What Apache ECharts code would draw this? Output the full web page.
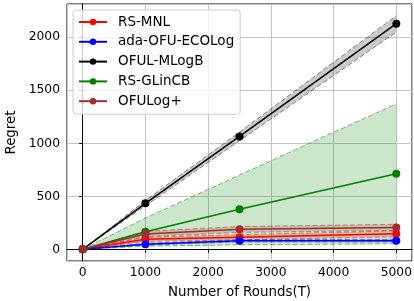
<!DOCTYPE html>
<html>
<head>
<meta charset="utf-8">
<script src="https://cdn.jsdelivr.net/npm/echarts@6/dist/echarts.min.js"></script>
<style>
  html, body { margin: 0; padding: 0; background: #fff; }
  #chart { width: 414px; height: 301px; }
</style>
</head>
<body>
<div id="chart"></div>
<script>
// rounds on the x axis
var rounds = [0, 1000, 2500, 5000];

// mean regret per algorithm
var rsMnl = [0, 95, 113, 148];
var adaOfu = [0, 48, 80, 82];
var ofulMlogb = [0, 434, 1065, 2128];
var rsGlincb = [0, 165, 378, 712];
var ofulogPlus = [0, 145, 190, 207];

// band edges (lower / upper)
var rsMnlLo = [0, 75, 90, 118];
var rsMnlHi = [0, 115, 138, 175];
var adaOfuLo = [0, 40, 70, 70];
var adaOfuHi = [0, 56, 90, 94];
var ofulMlogbLo = [0, 410, 1025, 2050];
var ofulMlogbHi = [0, 460, 1105, 2204];
var rsGlincbLo = [0, 30, 42, 52];
var rsGlincbHi = [0, 295, 700, 1372];
var ofulogPlusLo = [0, 120, 160, 178];
var ofulogPlusHi = [0, 170, 215, 236];

var FONT = 'DejaVu Sans';

function pairs(vals) {
  return rounds.map(function(r, i) { return [r, vals[i]]; });
}

// shaded band: one polygon drawn through the axis scales, plus dashed edges
function band(lo, hi, edge, fill) {
  var dash = { color: edge, width: 1, type: [5, 2.5] };
  var area = {
    type: 'custom', silent: true, z: 1,
    data: rounds.map(function(r, i) { return [r, lo[i], hi[i]]; }),
    encode: { x: 0, y: [1, 2] },
    renderItem: function(params, api) {
      if (params.dataIndex !== 0) return;
      var pts = [];
      for (var i = 0; i < rounds.length; i++) pts.push(api.coord([rounds[i], hi[i]]));
      for (var j = rounds.length - 1; j >= 0; j--) pts.push(api.coord([rounds[j], lo[j]]));
      return { type: 'polygon', shape: { points: pts }, style: { fill: fill } };
    }
  };
  return [
    area,
    { type: 'line', data: pairs(lo), symbol: 'none', lineStyle: dash, silent: true, z: 2 },
    { type: 'line', data: pairs(hi), symbol: 'none', lineStyle: dash, silent: true, z: 2 }
  ];
}

function mean(name, vals, color) {
  return {
    name: name, type: 'line', data: pairs(vals),
    symbol: 'circle', symbolSize: 8, showAllSymbol: true,
    lineStyle: { width: 1.5, color: color },
    itemStyle: { color: color },
    z: 3
  };
}

var series = [].concat(
  band(rsMnlLo, rsMnlHi, 'rgba(255,0,0,0.45)', 'rgba(255,0,0,0.2)'),
  [mean('RS-MNL', rsMnl, '#ff0000')],
  band(adaOfuLo, adaOfuHi, 'rgba(0,0,255,0.45)', 'rgba(0,0,255,0.2)'),
  [mean('ada-OFU-ECOLog', adaOfu, '#0000ff')],
  band(ofulMlogbLo, ofulMlogbHi, 'rgba(0,0,0,0.45)', 'rgba(0,0,0,0.2)'),
  [mean('OFUL-MLogB', ofulMlogb, '#000000')],
  band(rsGlincbLo, rsGlincbHi, 'rgba(0,128,0,0.5)', 'rgba(0,128,0,0.2)'),
  [mean('RS-GLinCB', rsGlincb, '#008000')],
  band(ofulogPlusLo, ofulogPlusHi, 'rgba(165,42,42,0.5)', 'rgba(165,42,42,0.2)'),
  [mean('OFULog+', ofulogPlus, '#a52a2a')]
);

function plain(v) { return String(v); }

var option = {
  animation: false,
  textStyle: { fontFamily: FONT },
  grid: {
    left: 67, right: 2, top: 4, bottom: 40,
    containLabel: false, outerBoundsMode: 'none',
    show: true, borderColor: '#000', borderWidth: 1
  },
  legend: {
    data: ['RS-MNL', 'ada-OFU-ECOLog', 'OFUL-MLogB', 'RS-GLinCB', 'OFULog+'],
    orient: 'vertical',
    left: 73, top: 10,
    itemWidth: 28, itemHeight: 8, itemGap: 5.8,
    padding: [5, 6, 6, 5],
    backgroundColor: 'rgba(255,255,255,0.8)',
    borderColor: '#cccccc', borderWidth: 1, borderRadius: 3,
    textStyle: { fontFamily: FONT, fontSize: 13.5, color: '#000', lineHeight: 14, padding: [0, 0, 0, 6] }
  },
  xAxis: {
    type: 'value',
    min: -250, max: 5250,
    name: 'Number of Rounds(T)',
    nameLocation: 'middle', nameGap: 25,
    nameTextStyle: { fontFamily: FONT, fontSize: 13.4, color: '#000' },
    axisLine: { lineStyle: { color: '#000', width: 1 } },
    axisTick: { show: true, length: 3.5, lineStyle: { color: '#000' } },
    axisLabel: { showMinLabel: false, showMaxLabel: false, margin: 6, fontFamily: FONT, fontSize: 12.3, color: '#000', formatter: plain },
    splitLine: { show: true, lineStyle: { color: '#c4c4c4', width: 1 } }
  },
  yAxis: {
    type: 'value',
    min: -110, max: 2314,
    name: 'Regret',
    nameLocation: 'middle', nameGap: 47,
    nameTextStyle: { fontFamily: FONT, fontSize: 13.4, color: '#000' },
    axisLine: { show: true, lineStyle: { color: '#000', width: 1 } },
    axisTick: { show: true, length: 3.5, lineStyle: { color: '#000' } },
    axisLabel: { showMinLabel: false, showMaxLabel: false, margin: 7, fontFamily: FONT, fontSize: 12.3, color: '#000', formatter: plain },
    splitLine: { show: true, lineStyle: { color: '#c4c4c4', width: 1 } }
  },
  series: series
};

var chart = echarts.init(document.getElementById('chart'));
chart.setOption(option);
</script>
</body>
</html>
